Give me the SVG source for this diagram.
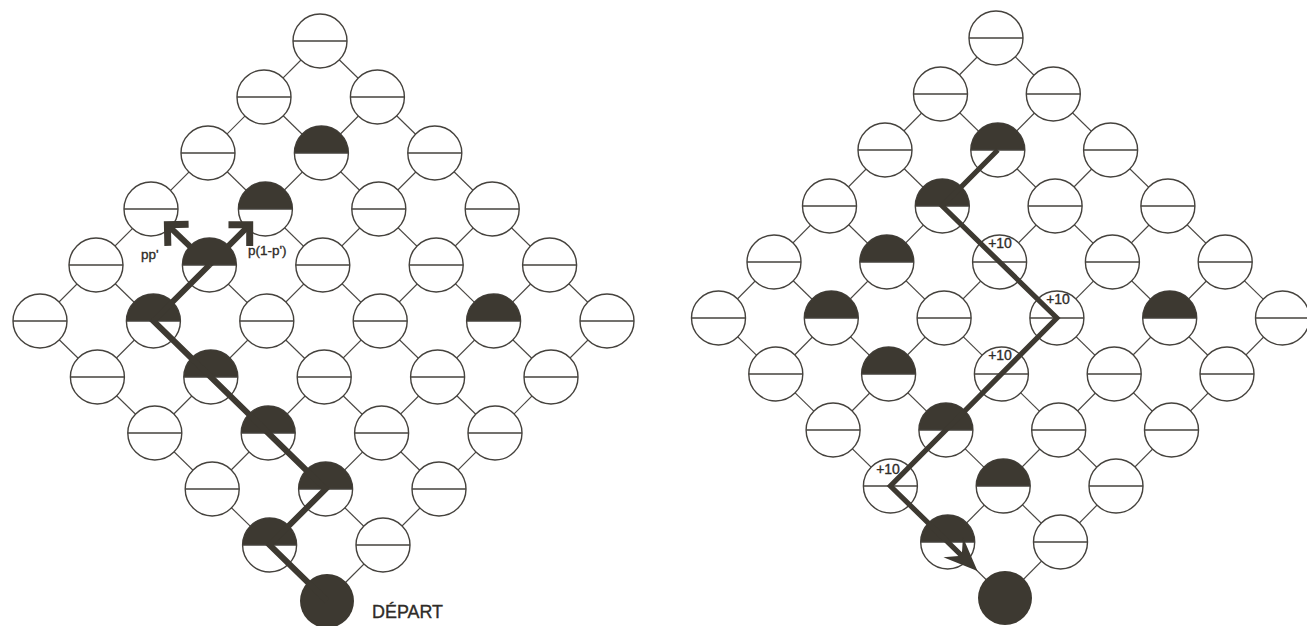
<svg xmlns="http://www.w3.org/2000/svg" width="1307" height="626" viewBox="0 0 1307 626">
<style>
.lk{stroke:#4a4743;stroke-width:1.2;fill:none}
.rim{fill:#fff;stroke:#45423d;stroke-width:1.4}
.mid{stroke:#45423d;stroke-width:1.6}
.dark{fill:#3d3931}
.trail{fill:none;stroke:#3d3931;stroke-linejoin:miter;stroke-linecap:butt}
.lbl{font-family:"Liberation Sans",Arial,sans-serif;fill:#2f2c28;stroke:#2f2c28;stroke-width:0.35}
.ten{font-size:14px;text-anchor:middle}
</style>
<defs>
<g id="e"><circle class="rim" r="27"/><line class="mid" x1="-27" y1="0" x2="27" y2="0"/></g>
<g id="h"><circle class="rim" r="27"/><path class="dark" d="M-27,0A27,27 0 0 1 27,0Z"/><line class="mid" x1="-27" y1="0" x2="27" y2="0"/></g>
<g id="f"><circle class="dark" r="27"/></g>
<path id="chev" d="M-15,-15L0,0L-15,15" fill="none" stroke="#3d3931" stroke-width="7" stroke-linejoin="miter"/>
<path id="barb" d="M0,0L-34,-14L-22,0L-34,14Z" fill="#3d3931"/>
</defs>
<rect width="1307" height="626" fill="#fff"/>

<g id="lattice-links">
<line class="lk" x1="327" y1="601" x2="40" y2="321"/>
<line class="lk" x1="383" y1="545" x2="96" y2="265"/>
<line class="lk" x1="439" y1="489" x2="151" y2="209"/>
<line class="lk" x1="495" y1="433" x2="208" y2="153"/>
<line class="lk" x1="551" y1="377" x2="264" y2="97"/>
<line class="lk" x1="607" y1="321" x2="320" y2="41"/>
<line class="lk" x1="327" y1="601" x2="607" y2="321"/>
<line class="lk" x1="269.6" y1="545" x2="549.6" y2="265"/>
<line class="lk" x1="212.2" y1="489" x2="492.2" y2="209"/>
<line class="lk" x1="154.8" y1="433" x2="434.8" y2="153"/>
<line class="lk" x1="97.4" y1="377" x2="377.4" y2="97"/>
<line class="lk" x1="40" y1="321" x2="320" y2="41"/>
<line class="lk" x1="1005" y1="598" x2="718.5" y2="318"/>
<line class="lk" x1="1060.5" y1="542" x2="774" y2="262"/>
<line class="lk" x1="1116" y1="486" x2="829.5" y2="206"/>
<line class="lk" x1="1171.5" y1="430" x2="885" y2="150"/>
<line class="lk" x1="1227" y1="374" x2="940.5" y2="94"/>
<line class="lk" x1="1282.5" y1="318" x2="996" y2="38"/>
<line class="lk" x1="1005" y1="598" x2="1282.5" y2="318"/>
<line class="lk" x1="947.7" y1="542" x2="1225.2" y2="262"/>
<line class="lk" x1="890.4" y1="486" x2="1167.9" y2="206"/>
<line class="lk" x1="833.1" y1="430" x2="1110.6" y2="150"/>
<line class="lk" x1="775.8" y1="374" x2="1053.3" y2="94"/>
<line class="lk" x1="718.5" y1="318" x2="996" y2="38"/>
</g>

<g id="left-nodes">
<g id="L-5-5"><use href="#e" x="320" y="41"/></g>
<g id="L-5-4"><use href="#e" x="264" y="97"/></g>
<g id="L-4-5"><use href="#e" x="377.4" y="97"/></g>
<g id="L-5-3"><use href="#e" x="208" y="153"/></g>
<g id="L-4-4"><use href="#h" x="321.4" y="153"/></g>
<g id="L-3-5"><use href="#e" x="434.8" y="153"/></g>
<g id="L-5-2"><use href="#e" x="151" y="209"/></g>
<g id="L-4-3"><use href="#h" x="265.4" y="209"/></g>
<g id="L-3-4"><use href="#e" x="378.8" y="209"/></g>
<g id="L-2-5"><use href="#e" x="492.2" y="209"/></g>
<g id="L-5-1"><use href="#e" x="96" y="265"/></g>
<g id="L-4-2"><use href="#h" x="209.4" y="265"/></g>
<g id="L-3-3"><use href="#e" x="322.8" y="265"/></g>
<g id="L-2-4"><use href="#e" x="436.2" y="265"/></g>
<g id="L-1-5"><use href="#e" x="549.6" y="265"/></g>
<g id="L-5-0"><use href="#e" x="40" y="321"/></g>
<g id="L-4-1"><use href="#h" x="153.4" y="321"/></g>
<g id="L-3-2"><use href="#e" x="266.8" y="321"/></g>
<g id="L-2-3"><use href="#e" x="380.2" y="321"/></g>
<g id="L-1-4"><use href="#h" x="493.6" y="321"/></g>
<g id="L-0-5"><use href="#e" x="607" y="321"/></g>
<g id="L-4-0"><use href="#e" x="97.4" y="377"/></g>
<g id="L-3-1"><use href="#h" x="210.8" y="377"/></g>
<g id="L-2-2"><use href="#e" x="324.2" y="377"/></g>
<g id="L-1-3"><use href="#e" x="437.6" y="377"/></g>
<g id="L-0-4"><use href="#e" x="551" y="377"/></g>
<g id="L-3-0"><use href="#e" x="154.8" y="433"/></g>
<g id="L-2-1"><use href="#h" x="268.2" y="433"/></g>
<g id="L-1-2"><use href="#e" x="381.6" y="433"/></g>
<g id="L-0-3"><use href="#e" x="495" y="433"/></g>
<g id="L-2-0"><use href="#e" x="212.2" y="489"/></g>
<g id="L-1-1"><use href="#h" x="325.6" y="489"/></g>
<g id="L-0-2"><use href="#e" x="439" y="489"/></g>
<g id="L-1-0"><use href="#h" x="269.6" y="545"/></g>
<g id="L-0-1"><use href="#e" x="383" y="545"/></g>
<g id="L-0-0"><use href="#f" x="327" y="601"/><text class="lbl" x="372" y="618" font-size="17.5" textLength="71" lengthAdjust="spacingAndGlyphs">DÉPART</text></g>
</g>

<g id="right-nodes">
<g id="R-5-5"><use href="#e" x="996" y="38"/></g>
<g id="R-5-4"><use href="#e" x="940.5" y="94"/></g>
<g id="R-4-5"><use href="#e" x="1053.3" y="94"/></g>
<g id="R-5-3"><use href="#e" x="885" y="150"/></g>
<g id="R-4-4"><use href="#h" x="997.8" y="150"/></g>
<g id="R-3-5"><use href="#e" x="1110.6" y="150"/></g>
<g id="R-5-2"><use href="#e" x="829.5" y="206"/></g>
<g id="R-4-3"><use href="#h" x="942.3" y="206"/></g>
<g id="R-3-4"><use href="#e" x="1055.1" y="206"/></g>
<g id="R-2-5"><use href="#e" x="1167.9" y="206"/></g>
<g id="R-5-1"><use href="#e" x="774" y="262"/></g>
<g id="R-4-2"><use href="#h" x="886.8" y="262"/></g>
<g id="R-3-3"><use href="#e" x="999.6" y="262"/><text class="lbl ten" x="1000" y="248">+10</text></g>
<g id="R-2-4"><use href="#e" x="1112.4" y="262"/></g>
<g id="R-1-5"><use href="#e" x="1225.2" y="262"/></g>
<g id="R-5-0"><use href="#e" x="718.5" y="318"/></g>
<g id="R-4-1"><use href="#h" x="831.3" y="318"/></g>
<g id="R-3-2"><use href="#e" x="944.1" y="318"/></g>
<g id="R-2-3"><use href="#e" x="1056.9" y="318"/><text class="lbl ten" x="1058" y="304">+10</text></g>
<g id="R-1-4"><use href="#h" x="1169.7" y="318"/></g>
<g id="R-0-5"><use href="#e" x="1282.5" y="318"/></g>
<g id="R-4-0"><use href="#e" x="775.8" y="374"/></g>
<g id="R-3-1"><use href="#h" x="888.6" y="374"/></g>
<g id="R-2-2"><use href="#e" x="1001.4" y="374"/><text class="lbl ten" x="1000" y="360">+10</text></g>
<g id="R-1-3"><use href="#e" x="1114.2" y="374"/></g>
<g id="R-0-4"><use href="#e" x="1227" y="374"/></g>
<g id="R-3-0"><use href="#e" x="833.1" y="430"/></g>
<g id="R-2-1"><use href="#h" x="945.9" y="430"/></g>
<g id="R-1-2"><use href="#e" x="1058.7" y="430"/></g>
<g id="R-0-3"><use href="#e" x="1171.5" y="430"/></g>
<g id="R-2-0"><use href="#e" x="890.4" y="486"/><text class="lbl ten" x="888" y="474">+10</text></g>
<g id="R-1-1"><use href="#h" x="1003.2" y="486"/></g>
<g id="R-0-2"><use href="#e" x="1116" y="486"/></g>
<g id="R-1-0"><use href="#h" x="947.7" y="542"/></g>
<g id="R-0-1"><use href="#e" x="1060.5" y="542"/></g>
<g id="R-0-0"><use href="#f" x="1005" y="598"/></g>
</g>

<g id="path-connectors">
<polyline class="trail" stroke-width="6" points="327,601 269.6,545 325.6,489 268.2,433 210.8,377 153.4,321 209.4,265"/>
<line class="trail" stroke-width="6" x1="209.4" y1="265" x2="168.5" y2="225.8"/>
<line class="trail" stroke-width="6" x1="209.4" y1="265" x2="248.6" y2="225.8"/>
<use href="#chev" transform="translate(167.4,224.7) rotate(-136.2)"/>
<use href="#chev" transform="translate(249.7,224.7) rotate(-45)"/>
<polyline class="trail" stroke-width="5.2" points="997.8,150 942.3,206 1056.9,318 890.4,486 963.2,557.1"/>
<use href="#barb" transform="translate(977.5,571.1) rotate(44.3)"/>
</g>

<g id="labels">
<text class="lbl" x="141" y="259" font-size="13.5">pp'</text>
<text class="lbl" x="248" y="255" font-size="13.5">p(1-p')</text>
</g>
</svg>
